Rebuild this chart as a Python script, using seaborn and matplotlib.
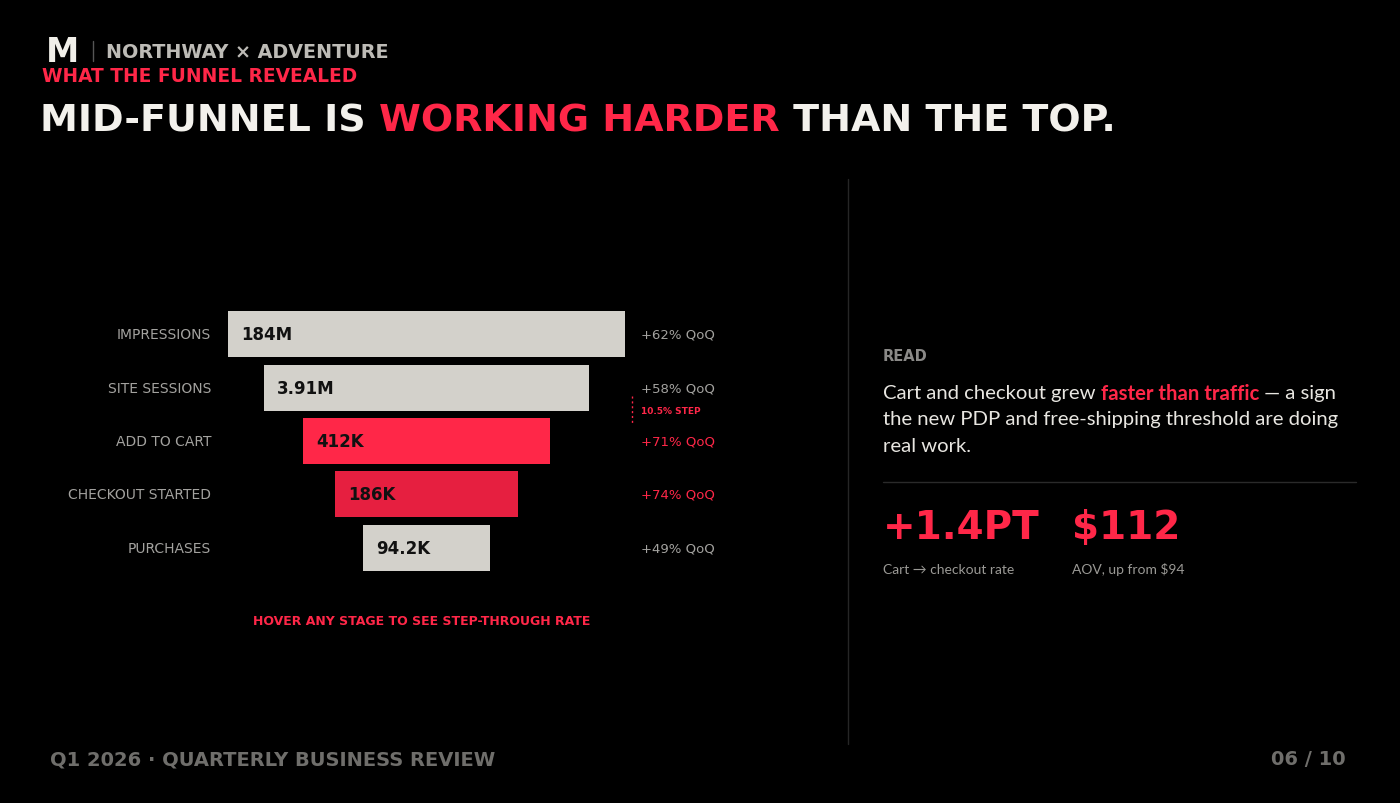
import matplotlib
matplotlib.use("Agg")
import matplotlib.pyplot as plt
import seaborn as sns
from matplotlib.lines import Line2D

# ---------------- data ----------------
stages = ["IMPRESSIONS", "SITE SESSIONS", "ADD TO CART", "CHECKOUT STARTED", "PURCHASES"]
values = ["184M", "3.91M", "412K", "186K", "94.2K"]
funnel_width = [100, 82, 62, 46, 32]          # display width of each stage (% of top)
qoq = ["+62% QoQ", "+58% QoQ", "+71% QoQ", "+74% QoQ", "+49% QoQ"]
highlight = [False, False, True, True, False]
step_note = "10.5% STEP"
kpi_values = ["+1.4PT", "$112"]
kpi_labels = ["Cart \u2192 checkout rate", "AOV, up from $94"]

W, H = 1400, 804
BG = "#000000"
GREY_BAR = "#d3d1cb"
RED = "#ff2748"
RED_DARK = "#e61f40"
bar_colors = [GREY_BAR, GREY_BAR, RED, RED_DARK, GREY_BAR]

sns.set_theme(style="dark")
plt.rcParams["font.family"] = ["DejaVu Sans"]
plt.rcParams["figure.facecolor"] = BG
plt.rcParams["axes.facecolor"] = BG
plt.rcParams["savefig.facecolor"] = BG

fig = plt.figure(figsize=(W / 100, H / 100), dpi=100)


def P(x, y):
    return x / W, 1 - y / H


def ftext(x, y, s, **kw):
    fx, fy = P(x, y)
    return fig.text(fx, fy, s, **kw)


renderer = fig.canvas.get_renderer()


def rich(x, y, parts, **common):
    cur = x
    for s, props in parts:
        kw = dict(common)
        kw.update(props)
        t = ftext(cur, y, s, **kw)
        bb = t.get_window_extent(renderer)
        cur = bb.x1
    return cur


# ---------------- header ----------------
ftext(46, 52, "M", fontsize=24, fontweight="heavy", color="#f1efe9", va="center", ha="left")
fig.add_artist(Line2D([93 / W, 93 / W], [1 - 42 / H, 1 - 62 / H], color="#555555", lw=1))
ftext(106, 52, "NORTHWAY \u00d7 ADVENTURE", fontsize=13.8, fontweight="bold",
      color="#bdbbb6", va="center", ha="left")
ftext(42, 77, "WHAT THE FUNNEL REVEALED", fontsize=13.4, fontweight="bold",
      color=RED, va="center", ha="left")

rich(40, 121, [("MID-FUNNEL IS ", {"color": "#f3f1ec"}),
               ("WORKING HARDER", {"color": RED}),
               (" THAN THE TOP.", {"color": "#f3f1ec"})],
     fontsize=27.4, fontweight="heavy", va="center", ha="left")

# ---------------- funnel ----------------
left_px, right_px = 228, 625
top_px, bot_px = 308.5, 575.5
ax = fig.add_axes([left_px / W, 1 - bot_px / H, (right_px - left_px) / W, (bot_px - top_px) / H])
sns.barplot(x=funnel_width, y=stages, hue=stages, palette=bar_colors, orient="h",
            width=0.86, legend=False, ax=ax, saturation=1)
for p in ax.patches:
    p.set_x(-p.get_width() / 2)
    p.set_edgecolor("none")
ax.set_xlim(-50, 50)
ax.set_ylim(len(stages) - 0.5, -0.5)
ax.axis("off")

for i, (st, val, w, q, hl) in enumerate(zip(stages, values, funnel_width, qoq, highlight)):
    ax.annotate(val, xy=(-w / 2, i), xytext=(13, 0), textcoords="offset pixels",
                ha="left", va="center", fontsize=12, fontweight="bold", color="#111111")
    ax.annotate(st, xy=(0, i), xycoords=("axes fraction", "data"), xytext=(-17, 0),
                textcoords="offset pixels", ha="right", va="center", fontsize=10,
                fontweight="medium", color="#a3a29f", annotation_clip=False)
    ax.annotate(q, xy=(1, i), xycoords=("axes fraction", "data"), xytext=(16, 0),
                textcoords="offset pixels", ha="left", va="center", fontsize=9.5,
                color=RED if hl else "#a3a29f", fontweight="normal",
                annotation_clip=False)

# step-through note between site sessions and add to cart
ax.annotate(step_note, xy=(1, 1.42), xycoords=("axes fraction", "data"), xytext=(16, 0),
            textcoords="offset pixels", ha="left", va="center", fontsize=6.5,
            fontweight="bold", color=RED, annotation_clip=False)
fig.add_artist(Line2D([632 / W, 632 / W], [1 - 397 / H, 1 - 425 / H], color=RED, lw=1,
                      ls=(0, (1.5, 2))))

ftext(422, 622, "HOVER ANY STAGE TO SEE STEP-THROUGH RATE", fontsize=9,
      fontweight="bold", color=RED, ha="center", va="center")

# ---------------- divider ----------------
fig.add_artist(Line2D([848 / W, 848 / W], [1 - 180 / H, 1 - 745 / H], color="#262626", lw=1))

# ---------------- right panel ----------------
ftext(883, 357, "READ", fontsize=10.5, fontweight="bold", color="#8a8987", ha="left", va="center")
body = dict(fontsize=14.6, va="center", ha="left", family=["Lato", "DejaVu Sans"])
rich(883, 394, [("Cart and checkout grew ", {"color": "#e8e6e1"}),
                ("faster than traffic", {"color": RED, "fontweight": "bold"}),
                (" \u2014 a sign", {"color": "#e8e6e1"})], **body)
ftext(883, 420, "the new PDP and free-shipping threshold are doing", color="#e8e6e1", **body)
ftext(883, 447, "real work.", color="#e8e6e1", **body)
fig.add_artist(Line2D([883 / W, 1356 / W], [1 - 483 / H, 1 - 483 / H], color="#2a2a2a", lw=1))

kpi_x = [883, 1072]
for x, v, lab in zip(kpi_x, kpi_values, kpi_labels):
    ftext(x, 528, v, fontsize=28, fontweight="heavy", color=RED, ha="left", va="center")
    ftext(x, 570, lab, fontsize=10, color="#9a9995", ha="left", va="center",
          family=["Lato", "DejaVu Sans"])

# ---------------- footer ----------------
ftext(50, 760, "Q1 2026 \u00b7 QUARTERLY BUSINESS REVIEW", fontsize=14, fontweight="semibold",
      color="#6f6e6b", ha="left", va="center")
ftext(1346, 760, "06 / 10", fontsize=14, fontweight="semibold", color="#6f6e6b",
      ha="right", va="center")

fig.savefig("out.png", dpi=100, facecolor=BG)
